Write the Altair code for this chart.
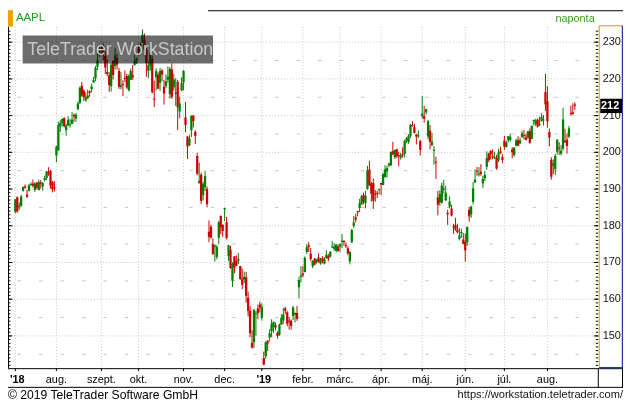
import altair as alt
import pandas as pd

# ---------------- data: AAPL daily OHLC, 2018-07-02 .. 2019-08-21 ----------------
open_ = [
    183.82,187.79,185.26,185.42,189.50,190.71,188.50,189.53,191.08,191.52,189.75,191.78,189.69,191.78,190.68,192.45,193.06,194.61,194.99,191.90,190.30,
    199.13,200.58,207.03,208.00,209.32,206.05,207.28,207.36,207.70,210.16,209.22,211.75,213.44,218.10,216.80,214.10,214.65,216.60,217.15,219.01,220.15,223.25,226.51,
    228.41,228.99,226.23,221.85,220.95,218.01,224.94,223.52,225.75,222.15,217.79,218.50,220.24,220.78,216.82,219.75,221.00,223.82,224.79,
    227.95,227.25,230.05,230.78,227.96,222.21,223.64,225.46,214.52,220.42,221.16,218.93,222.30,217.86,218.06,219.79,215.83,222.60,217.71,215.90,219.19,211.15,216.88,
    219.05,209.55,204.30,201.92,205.97,209.98,205.55,199.00,191.63,193.90,188.39,190.50,190.00,178.37,179.73,174.94,174.24,171.51,176.73,182.66,180.29,
    184.46,180.95,171.76,173.49,165.00,171.66,170.40,170.49,169.00,165.45,165.38,166.00,160.40,156.86,148.15,148.30,155.84,157.50,158.53,
    154.89,143.98,144.53,148.70,149.56,151.29,152.50,152.88,150.85,150.27,153.08,154.20,157.50,156.41,154.15,154.11,155.48,155.79,156.25,163.25,166.11,
    166.96,167.41,172.86,174.65,172.40,168.99,171.05,170.10,171.39,169.71,171.25,169.71,171.19,171.80,171.58,174.16,173.71,173.21,174.32,
    174.28,175.69,175.94,174.67,173.87,170.32,175.49,180.00,182.25,183.90,184.85,185.80,188.35,186.23,190.02,195.34,191.51,191.66,188.75,188.95,189.83,
    191.64,191.09,193.25,194.79,196.45,196.42,200.32,198.68,200.85,199.20,198.58,199.46,199.54,203.12,202.83,204.43,207.36,206.83,204.90,204.40,203.06,
    209.88,209.84,210.89,204.29,205.88,201.90,200.40,197.42,187.71,186.41,186.27,189.91,186.93,183.52,185.22,184.66,179.80,180.20,178.92,176.42,177.95,176.23,
    175.60,175.44,184.28,183.08,186.51,191.81,194.86,193.95,194.70,191.55,192.90,196.05,199.68,200.37,198.80,198.54,198.43,197.77,200.29,198.68,
    203.17,201.41,203.28,203.35,200.81,199.20,201.85,203.31,202.45,204.09,204.59,204.05,204.00,205.79,203.65,208.46,207.67,208.89,207.48,208.46,208.76,216.42,
    213.90,205.53,197.99,196.31,195.41,200.20,201.30,199.62,201.02,203.16,203.46,204.28,210.62,210.88,212.99,
]
high = [
    187.30,187.95,186.41,188.43,190.68,191.28,189.78,191.41,191.84,192.65,191.87,191.80,192.55,192.43,191.96,193.66,194.85,195.96,195.19,192.20,192.14,
    201.76,208.38,208.74,209.25,209.50,207.81,209.78,209.10,210.95,210.56,210.74,213.81,217.95,219.18,217.19,216.36,217.05,216.90,218.74,220.54,223.49,228.26,228.87,
    229.18,229.67,227.35,225.37,221.85,224.30,225.00,228.35,226.84,222.95,221.85,219.62,222.28,221.36,221.26,222.82,223.75,226.44,225.84,
    229.42,230.00,233.47,232.35,228.41,224.80,227.27,226.35,219.50,222.88,221.83,222.99,222.64,219.74,221.26,223.36,223.25,224.23,221.38,220.19,219.69,215.18,220.45,
    222.36,213.65,204.39,204.72,210.06,210.12,206.01,199.85,197.18,194.48,191.97,194.97,190.70,181.47,180.27,176.60,174.95,174.77,181.29,182.80,180.33,
    184.94,182.39,174.78,174.49,170.09,171.79,171.92,172.57,169.08,168.35,167.53,167.45,162.11,158.16,151.55,157.23,156.77,158.52,159.36,
    158.85,145.72,148.55,148.83,151.82,154.53,153.97,153.70,151.27,153.39,155.88,157.66,157.88,156.73,155.14,154.48,158.13,156.33,158.13,166.15,169.00,
    168.98,171.66,175.08,175.57,173.94,170.66,171.21,171.00,172.48,171.26,171.70,171.44,173.32,172.37,173.00,175.87,175.30,175.00,174.91,
    175.15,177.75,176.00,175.49,174.44,173.07,179.12,182.67,183.30,184.10,187.33,188.39,188.99,189.49,196.33,197.69,191.98,192.88,189.76,189.56,190.08,
    191.68,194.46,196.50,196.37,197.10,200.23,202.85,200.74,201.00,200.14,199.85,201.37,203.38,204.15,204.94,207.75,208.48,207.76,205.00,205.97,203.40,
    215.31,212.65,211.84,208.84,207.42,205.34,201.68,198.85,189.48,189.70,191.75,192.47,190.90,184.35,188.00,185.71,180.54,182.14,180.59,179.35,179.23,177.99,
    177.92,179.83,184.99,185.47,191.92,195.37,196.00,195.97,196.79,193.59,194.96,200.29,199.88,200.61,200.85,200.16,199.26,200.99,201.57,199.50,
    204.49,203.13,204.44,205.08,201.40,201.51,203.73,204.39,204.00,205.87,206.11,205.09,205.88,206.50,207.23,208.91,209.15,209.24,209.73,210.64,210.16,221.37,
    218.03,206.43,198.65,198.07,199.56,203.53,202.76,202.05,212.14,206.44,205.14,207.16,212.73,213.35,213.65,
]
low = [
    183.42,183.54,184.28,185.20,189.30,190.18,187.61,189.31,190.90,190.42,189.20,189.93,189.69,190.17,189.56,192.05,192.43,193.61,190.10,189.07,189.34,
    197.31,200.35,205.48,207.07,206.76,204.52,207.20,206.67,207.70,208.26,208.33,211.47,213.16,215.11,214.03,213.84,214.60,215.11,216.33,218.92,219.41,222.40,226.00,
    226.63,225.10,221.30,220.71,216.47,216.56,219.84,222.57,222.52,217.27,217.12,215.30,219.15,217.29,216.63,219.70,219.76,223.54,224.02,
    226.35,226.63,229.78,226.73,220.58,220.20,222.25,216.05,212.32,216.84,217.27,216.76,219.34,213.00,217.43,218.94,214.70,214.54,216.75,212.67,206.09,209.27,216.62,
    216.81,205.43,198.17,201.69,204.13,206.75,202.25,193.79,191.45,185.93,186.90,189.46,184.99,175.51,176.55,172.10,170.26,170.88,174.93,177.70,177.03,
    181.21,176.27,170.42,168.30,163.33,167.00,169.02,169.55,165.28,162.73,164.39,159.09,155.30,149.63,146.59,146.72,150.07,154.55,156.48,
    154.23,142.00,143.80,145.90,148.52,149.63,150.86,151.51,149.22,150.05,153.00,153.26,155.98,152.62,151.70,151.74,154.32,153.66,154.11,160.23,164.56,
    165.93,167.28,172.35,172.85,170.34,168.42,169.25,169.70,169.92,169.38,169.75,169.49,170.99,170.30,171.38,173.95,173.17,172.73,172.92,
    172.89,173.97,174.54,173.94,172.02,169.50,175.35,179.37,180.92,182.56,183.74,185.79,185.92,184.73,189.81,190.78,186.60,184.58,186.55,187.53,188.54,
    188.38,191.05,193.15,193.14,195.93,196.34,199.23,198.18,198.44,196.21,198.01,198.56,198.61,202.52,202.34,203.90,207.05,205.12,202.12,203.86,199.11,
    209.23,208.13,210.23,203.50,200.83,201.75,196.66,192.77,182.85,185.41,186.02,188.84,186.76,180.28,184.70,182.55,177.81,178.62,177.91,176.00,176.67,174.99,
    170.27,174.52,181.14,182.15,185.77,191.62,193.60,193.39,193.60,190.30,192.17,195.21,197.31,198.03,198.15,198.17,195.29,197.35,199.57,197.05,
    200.65,201.36,202.69,202.90,198.41,198.81,201.56,201.71,202.20,204.00,203.50,203.27,203.70,202.36,203.61,207.29,207.17,206.73,207.14,208.44,207.31,211.30,
    206.74,201.63,192.58,194.04,193.82,199.39,199.29,199.15,200.48,202.59,199.67,203.84,210.03,210.32,211.60,
]
close = [
    187.18,183.92,185.40,187.97,190.58,190.35,187.88,191.03,191.33,190.91,191.45,190.40,191.88,191.44,191.61,193.00,194.82,194.21,190.98,189.91,190.29,
    201.50,207.39,207.99,209.07,207.11,207.25,208.88,207.53,208.87,209.75,210.24,213.32,217.58,215.46,215.04,215.05,215.49,216.16,217.94,219.70,222.98,225.03,227.63,
    228.36,226.87,223.10,221.30,218.33,223.85,221.07,226.41,223.84,217.88,218.24,218.37,220.03,217.66,220.79,222.19,220.42,224.95,225.74,
    227.26,229.28,232.07,227.99,224.29,223.77,226.87,216.36,214.45,222.11,217.36,222.15,221.19,216.02,219.31,220.65,222.73,215.09,219.80,216.30,212.24,213.30,218.86,
    222.22,207.48,201.59,203.77,209.95,208.49,204.47,194.17,192.23,186.80,191.41,193.53,185.86,176.98,176.78,172.29,174.62,174.24,180.94,179.55,178.58,
    184.82,176.69,174.72,168.49,169.60,168.63,169.10,170.95,165.48,163.94,166.07,160.89,156.83,150.73,146.83,157.17,156.15,156.23,157.74,
    157.92,142.19,148.26,147.93,150.75,153.31,153.80,152.29,150.00,153.07,154.94,155.86,156.82,153.30,153.92,152.70,157.76,156.30,154.68,165.25,166.44,
    166.52,171.25,174.18,174.24,170.94,170.41,169.43,170.89,170.18,170.80,170.42,170.93,172.03,171.06,172.97,174.23,174.33,174.87,173.15,
    174.97,175.85,175.53,174.52,172.50,172.91,178.90,180.91,181.71,183.73,186.12,188.02,186.53,188.16,195.09,191.05,188.74,186.79,188.47,188.72,189.95,
    191.24,194.02,195.35,195.69,197.00,200.10,199.50,200.62,198.95,198.87,199.23,199.25,203.13,203.86,204.53,207.48,207.16,205.28,204.30,204.61,200.67,
    210.52,209.15,211.75,208.48,202.86,202.90,200.72,197.18,185.72,188.66,190.92,190.08,189.00,183.09,186.60,182.78,179.66,178.97,178.23,177.38,178.30,175.07,
    173.30,179.64,182.54,185.22,190.15,192.58,194.81,194.19,194.15,192.74,193.89,198.45,197.87,199.46,198.78,198.58,195.57,199.80,199.74,197.92,
    201.55,202.73,204.41,204.23,200.02,201.24,203.23,201.75,203.30,205.21,204.50,203.35,205.66,202.59,207.22,208.84,208.67,207.02,207.74,209.68,208.78,213.04,
    208.43,204.02,193.34,197.00,199.04,203.43,200.99,200.48,208.97,202.75,201.74,206.50,210.35,210.36,212.64,
]

# first trading day (index) of each month and its label
month_idx = [0, 21, 44, 63, 86, 107, 126, 147, 166, 187, 208, 230, 250, 272]
month_lbl = ["'18", "aug.", "szept.", "okt.", "nov.", "dec.", "'19",
             "febr.", "márc.", "ápr.", "máj.", "jún.", "júl.", "aug."]
year_lbl = {"'18", "'19"}
price_lbl = [150, 160, 170, 180, 190, 200, 210, 220, 230]

# ---------------- layout ----------------
SX, SY = 622 / 630, 399 / 408
W, H = 597, 362
FONT = "Liberation Sans"
GREEN, RED = "#008000", "#cc0000"
GRID = "#c4c4c4"

n = len(close)
df = pd.DataFrame({"i": list(range(n)), "o": open_, "h": high, "l": low, "c": close})
df["dir"] = ["up" if c >= o else "down" for o, c in zip(df.o, df.c)]
bt = df[["o", "c"]].max(axis=1)
bb = df[["o", "c"]].min(axis=1)
mid = (bt + bb) / 2
small = (bt - bb) < 0.28
df["bt"] = bt.where(~small, mid + 0.14)
df["bb"] = bb.where(~small, mid - 0.14)

xs = alt.Scale(domain=[-3.74, 298.0], nice=False, zero=False)
ys = alt.Scale(domain=[141.22, 238.69], nice=False, zero=False)


def X(f):
    return alt.X(f, type="quantitative", scale=xs, axis=None)


def Y(f):
    return alt.Y(f, type="quantitative", scale=ys, axis=None)


color = alt.Color("dir:N", scale=alt.Scale(domain=["up", "down"], range=[GREEN, RED]), legend=None)
dummy = pd.DataFrame({"a": [0]})


def seg(x1, y1, x2, y2, col, sw=1.0):
    return alt.Chart(dummy).mark_rule(color=col, strokeWidth=sw).encode(
        x=alt.value(x1), x2=alt.value(x2), y=alt.value(y1), y2=alt.value(y2))


def label(txt, x, y, size, col="#000", align="left", weight="normal", baseline="middle"):
    return alt.Chart(dummy).mark_text(text=txt, font=FONT, fontSize=size, color=col, align=align,
                                      baseline=baseline, fontWeight=weight).encode(
        x=alt.value(x), y=alt.value(y))


top_grid = 17 * SY

# grid
major_df = pd.DataFrame({"v": price_lbl})
minor_df = pd.DataFrame({"v": [p + 5 for p in price_lbl[:-1]] + [145]})
g_major = alt.Chart(major_df).mark_rule(color=GRID, strokeDash=[1, 2], strokeWidth=1).encode(
    y=Y("v"), x=alt.value(0), x2=alt.value(W))
g_minor = alt.Chart(minor_df).mark_rule(color=GRID, strokeDash=[3.5, 18.2], strokeDashOffset=12,
                                        strokeWidth=1).encode(
    y=Y("v"), x=alt.value(0), x2=alt.value(W))
mdf = pd.DataFrame({"i": month_idx, "lbl": month_lbl})
g_vert = alt.Chart(mdf).mark_rule(color=GRID, strokeDash=[1, 2], strokeWidth=1).encode(
    x=X("i"), y=alt.value(top_grid), y2=alt.value(H))

# candles
base = alt.Chart(df)
wicks = base.mark_rule(strokeWidth=1).encode(x=X("i"), y=Y("l"), y2=alt.Y2("h"), color=color)
bodies = base.mark_rule(strokeWidth=2.3, strokeCap="butt").encode(
    x=X("i"), y=Y("bb"), y2=alt.Y2("bt"), color=color)

# watermark
wm_box = alt.Chart(dummy).mark_rect(color="#6c6c6c", blend="multiply").encode(
    x=alt.value(15 * SX), x2=alt.value(210 * SX), y=alt.value(26 * SY), y2=alt.value(55 * SY))
wm_txt = label("TeleTrader WorkStation", 115 * SX, 46 * SY, 18, col="#c8c8c8",
               align="center", baseline="alphabetic")

# axis ticks (left and right edges)
tick_vals = list(range(142, 234))
tdf = pd.DataFrame({"v": tick_vals})
left_ticks = alt.Chart(tdf).mark_rule(color="#000", strokeWidth=1).encode(
    y=Y("v"), x=alt.value(0), x2=alt.value(2.5))
left_major = alt.Chart(major_df).mark_rule(color="#000", strokeWidth=1).encode(
    y=Y("v"), x=alt.value(0), x2=alt.value(4.5))
right_ticks = alt.Chart(tdf).mark_rule(color="#000", strokeWidth=1).encode(
    y=Y("v"), x=alt.value(W - 2.5), x2=alt.value(W))
right_major = alt.Chart(major_df).mark_rule(color="#000", strokeWidth=1).encode(
    y=Y("v"), x=alt.value(W - 4.5), x2=alt.value(W))
right_labels = alt.Chart(major_df).mark_text(font=FONT, fontSize=11, color="#111", align="left",
                                              baseline="middle").encode(
    y=Y("v"), x=alt.value(W + 4.5), text="v:Q")

# last price box
last = close[-1]
ldf = pd.DataFrame({"v": [last], "y1": [last - 1.95], "y2": [last + 1.95], "t": [str(int(last))]})
last_box = alt.Chart(ldf).mark_rect(color="#000").encode(
    y=Y("y1"), y2=alt.Y2("y2"), x=alt.value(W + 2), x2=alt.value(621))
last_txt = alt.Chart(ldf).mark_text(font=FONT, fontSize=11, fontWeight="bold", color="#fff",
                                     align="center", baseline="middle").encode(
    y=Y("v"), x=alt.value(W + 12), text="t:N")

# month labels and ticks
m_norm = mdf[~mdf.lbl.isin(year_lbl)]
m_year = mdf[mdf.lbl.isin(year_lbl)]
lab_y = 382 * SY
month_text = alt.Chart(m_norm).mark_text(font=FONT, fontSize=11, color="#000", baseline="middle").encode(
    x=X("i"), y=alt.value(lab_y), text="lbl:N")
year_text = alt.Chart(m_year).mark_text(font=FONT, fontSize=11, fontWeight="bold", color="#000",
                                        baseline="middle", dx=2).encode(
    x=X("i"), y=alt.value(lab_y), text="lbl:N")
month_ticks = alt.Chart(mdf).mark_rule(color="#000", strokeWidth=1).encode(
    x=X("i"), y=alt.value(H), y2=alt.value(H + 3))

# frame
frame = [
    seg(205 * SX, 0.5, 630 * SX, 0.5, "#000"),
    seg(0.5, top_grid, 0.5, H, "#000"),
    seg(0, H + 0.5, 630 * SX, H + 0.5, "#000"),
    seg(0, 390 * SY, 630 * SX, 390 * SY, "#000"),
    seg(W, H, W, 390 * SY, "#000"),
    seg(621.5, H, 621.5, 390 * SY, "#000"),
    seg(W + 1, 16 * SY, W + 1, H, "#e0b040", 1.3),
    seg(W + 1, 16 * SY, 621.5, 16 * SY, "#e0b040", 1.3),
    seg(621.5, 16 * SY, 621.5, H, "#2040a0", 1.5),
    seg(W + 1, H - 0.5, 621.5, H - 0.5, "#2040a0", 1.5),
]
orange = alt.Chart(dummy).mark_rect(color="#f0a000").encode(
    x=alt.value(0), x2=alt.value(5), y=alt.value(0), y2=alt.value(17 * SY))

texts = [
    label("AAPL", 8, 8 * SY, 11.5, col="#1c9c1c"),
    label("naponta", 601 * SX, 9 * SY, 11, col="#3c9c1c", align="right"),
    label("© 2019 TeleTrader Software GmbH", 0, 398 * SY, 12.3, col="#000"),
    label("https://workstation.teletrader.com/", 630 * SX, 398 * SY, 11.2, col="#111", align="right"),
]

chart = alt.layer(
    g_major, g_minor, g_vert,
    wicks, bodies,
    wm_box, wm_txt,
    left_ticks, left_major, right_ticks, right_major,
    *frame, orange,
    right_labels, last_box, last_txt,
    month_ticks, month_text, year_text,
    *texts,
).properties(
    width=W, height=H,
    padding={"left": 0, "top": 0, "right": 25, "bottom": 37},
    autosize=alt.AutoSizeParams(type="none"),
    background="#ffffff",
).configure_view(strokeWidth=0)

chart.save("out.html", embed_options={"renderer": "svg", "actions": False})
